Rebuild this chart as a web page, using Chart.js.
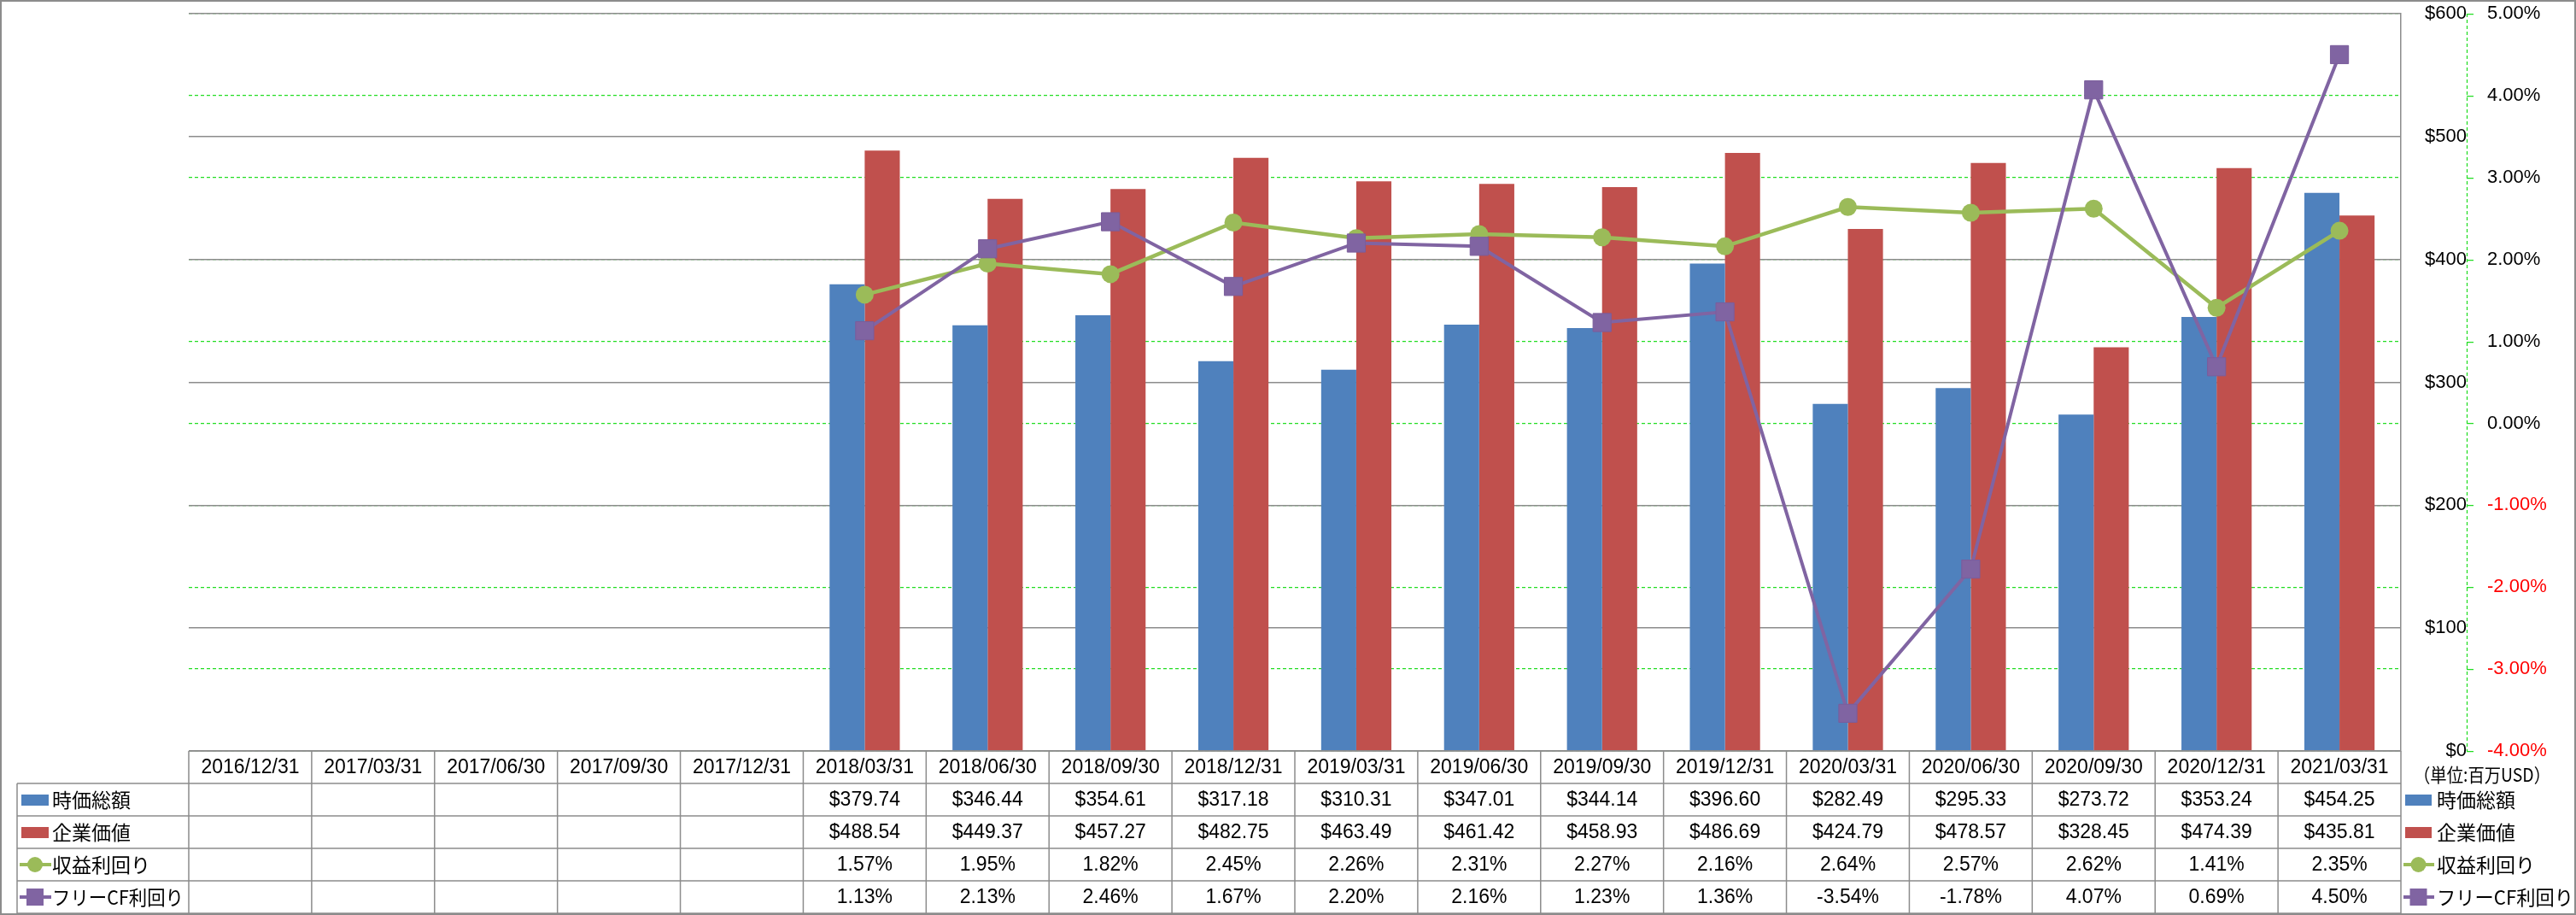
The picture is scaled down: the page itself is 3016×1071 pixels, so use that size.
<!DOCTYPE html>
<html>
<head>
<meta charset="utf-8">
<script src="https://cdn.jsdelivr.net/npm/chart.js@4.4.1/dist/chart.umd.min.js"></script>
<style>
  html, body { margin: 0; padding: 0; background: #fff; }
  canvas { display: block; }
</style>
</head>
<body>
<canvas id="c" width="3016" height="1071"></canvas>
<script>
const categories = ['2016/12/31', '2017/03/31', '2017/06/30', '2017/09/30', '2017/12/31',
  '2018/03/31', '2018/06/30', '2018/09/30', '2018/12/31', '2019/03/31', '2019/06/30',
  '2019/09/30', '2019/12/31', '2020/03/31', '2020/06/30', '2020/09/30', '2020/12/31', '2021/03/31'];
const marketCap = [null, null, null, null, null,
  379.74, 346.44, 354.61, 317.18, 310.31, 347.01, 344.14, 396.60, 282.49, 295.33, 273.72, 353.24, 454.25];
const enterpriseValue = [null, null, null, null, null,
  488.54, 449.37, 457.27, 482.75, 463.49, 461.42, 458.93, 486.69, 424.79, 478.57, 328.45, 474.39, 435.81];
const earningsYield = [null, null, null, null, null,
  1.57, 1.95, 1.82, 2.45, 2.26, 2.31, 2.27, 2.16, 2.64, 2.57, 2.62, 1.41, 2.35];
const fcfYield = [null, null, null, null, null,
  1.13, 2.13, 2.46, 1.67, 2.20, 2.16, 1.23, 1.36, -3.54, -1.78, 4.07, 0.69, 4.50];
const names = ['時価総額', '企業価値', '収益利回り', 'フリーCF利回り'];
const unitLabel = '（単位:百万USD）';

const colors = ['#4F81BD', '#C0504D', '#9BBB59', '#8064A2'];
const LATIN = "'Liberation Sans', 'Noto Sans CJK JP', sans-serif";
const JP = "'Noto Sans CJK JP', sans-serif";
const GRID = '#8c8c8c', GREEN = '#22DD22';
Chart.defaults.font.family = LATIN;
Chart.defaults.color = '#000';

const money = v => '$' + v.toFixed(2);
const pct = v => v.toFixed(2) + '%';
const rows = [
  { data: marketCap, fmt: money },
  { data: enterpriseValue, fmt: money },
  { data: earningsYield, fmt: pct },
  { data: fcfYield, fmt: pct },
];

// legend key: bar swatch or line with marker
function drawKey(ctx, i, x, y, w) {
  ctx.fillStyle = colors[i]; ctx.strokeStyle = colors[i];
  if (i < 2) { ctx.fillRect(x, y - 6, w, 13); return; }
  ctx.lineWidth = 4;
  ctx.beginPath(); ctx.moveTo(x - 2, y); ctx.lineTo(x + w + 3, y); ctx.stroke();
  const cx = x + w / 2;
  ctx.beginPath();
  if (i === 2) ctx.arc(cx, y, 9, 0, Math.PI * 2);
  else ctx.rect(cx - 10, y - 10, 20, 20);
  ctx.fill();
}

const tablePlugin = {
  id: 'dataTable',
  afterDraw(chart) {
    const { ctx, chartArea: a, scales: { x, y1 } } = chart;
    const n = categories.length, cw = (a.right - a.left) / n;
    const top = a.bottom, rh = 38, bottom = top + rh * 5, tl = 20;
    ctx.save();

    // secondary axis line (dashed green) + short tick marks
    ctx.strokeStyle = GREEN; ctx.lineWidth = 1.25; ctx.setLineDash([4, 3]);
    ctx.beginPath(); ctx.moveTo(y1.left + 0.5, y1.top); ctx.lineTo(y1.left + 0.5, y1.bottom); ctx.stroke();
    ctx.setLineDash([]);
    ctx.beginPath();
    y1.ticks.forEach(t => {
      const py = Math.round(y1.getPixelForValue(t.value)) + 0.5;
      ctx.moveTo(y1.left, py); ctx.lineTo(y1.left + 8, py);
    });
    ctx.stroke();

    // table grid
    ctx.strokeStyle = GRID; ctx.lineWidth = 1.5;
    ctx.beginPath();
    ctx.moveTo(a.left, top); ctx.lineTo(a.right, top);
    for (let r = 1; r <= 5; r++) { ctx.moveTo(tl, top + r * rh); ctx.lineTo(a.right, top + r * rh); }
    ctx.moveTo(tl, top + rh); ctx.lineTo(tl, bottom);
    for (let i = 0; i <= n; i++) { const px = a.left + i * cw; ctx.moveTo(px, top); ctx.lineTo(px, bottom); }
    ctx.stroke();

    // header + values
    ctx.fillStyle = '#000'; ctx.textAlign = 'center'; ctx.textBaseline = 'middle';
    ctx.font = '23px ' + LATIN;
    categories.forEach((c, i) => ctx.fillText(c, x.getPixelForValue(i), top + rh / 2 + 1));
    rows.forEach((row, r) => {
      const cy = top + rh * (r + 1.5) + 1;
      row.data.forEach((v, i) => { if (v != null) ctx.fillText(row.fmt(v), x.getPixelForValue(i), cy); });
    });

    // legends left and right
    ctx.textAlign = 'left';
    names.forEach((nm, r) => {
      const cy = top + rh * (r + 1.5);
      drawKey(ctx, r, 25, cy, 32);
      drawKey(ctx, r, a.right + 5, cy, 31);
      ctx.fillStyle = '#000'; ctx.font = '23px ' + JP;
      ctx.fillText(nm, 61, cy, 154);
      ctx.fillText(nm, a.right + 42, cy, 160);
    });

    ctx.font = '22px ' + JP; ctx.textAlign = 'center';
    ctx.fillText(unitLabel, a.right + 95, top + 28, 160);

    // outer frame
    ctx.strokeStyle = GRID; ctx.lineWidth = 2;
    ctx.strokeRect(1, 1, chart.width - 2, chart.height - 2);
    ctx.restore();
  }
};

new Chart(document.getElementById('c'), {
  data: {
    labels: categories,
    datasets: [
      { type: 'line', label: names[3], data: fcfYield, yAxisID: 'y1', order: 0,
        borderColor: colors[3], backgroundColor: colors[3], borderWidth: 4,
        pointStyle: 'rect', pointRadius: 15, pointBorderWidth: 1, pointBorderColor: '#7a5d9c' },
      { type: 'line', label: names[2], data: earningsYield, yAxisID: 'y1', order: 1,
        borderColor: colors[2], backgroundColor: colors[2], borderWidth: 4.5,
        pointStyle: 'circle', pointRadius: 10.5, pointBorderWidth: 0 },
      { type: 'bar', label: names[0], data: marketCap, yAxisID: 'y', order: 2,
        backgroundColor: colors[0], categoryPercentage: 1 / 1.75, barPercentage: 1 },
      { type: 'bar', label: names[1], data: enterpriseValue, yAxisID: 'y', order: 2,
        backgroundColor: colors[1], categoryPercentage: 1 / 1.75, barPercentage: 1 },
    ]
  },
  options: {
    responsive: false, animation: false, devicePixelRatio: 1,
    layout: { padding: { left: 221, top: 15, right: 0, bottom: 192 } },
    plugins: { legend: { display: false }, tooltip: { enabled: false } },
    scales: {
      x: { display: false, offset: true },
      y: {
        position: 'right', min: 0, max: 600,
        ticks: { stepSize: 100, callback: v => '$' + v, crossAlign: 'far', padding: 0, font: { size: 22 }, color: '#000' },
        grid: { color: GRID, lineWidth: 1.5, drawTicks: false, z: -1 },
        border: { color: GRID, width: 1.5 },
        afterFit: s => { s.width = 77; }
      },
      y1: {
        position: 'right', min: -4, max: 5,
        ticks: { stepSize: 1, callback: v => v.toFixed(2) + '%', padding: 0, font: { size: 22 },
          color: c => (c.tick && c.tick.value < 0) ? '#FF0000' : '#000000' },
        grid: { color: GREEN, lineWidth: 1.25, tickLength: 24, tickColor: 'rgba(0,0,0,0)', z: -2 },
        border: { display: false, dash: [4, 3] },
        afterFit: s => { s.width = 128; }
      }
    }
  },
  plugins: [tablePlugin]
});
</script>
</body>
</html>
